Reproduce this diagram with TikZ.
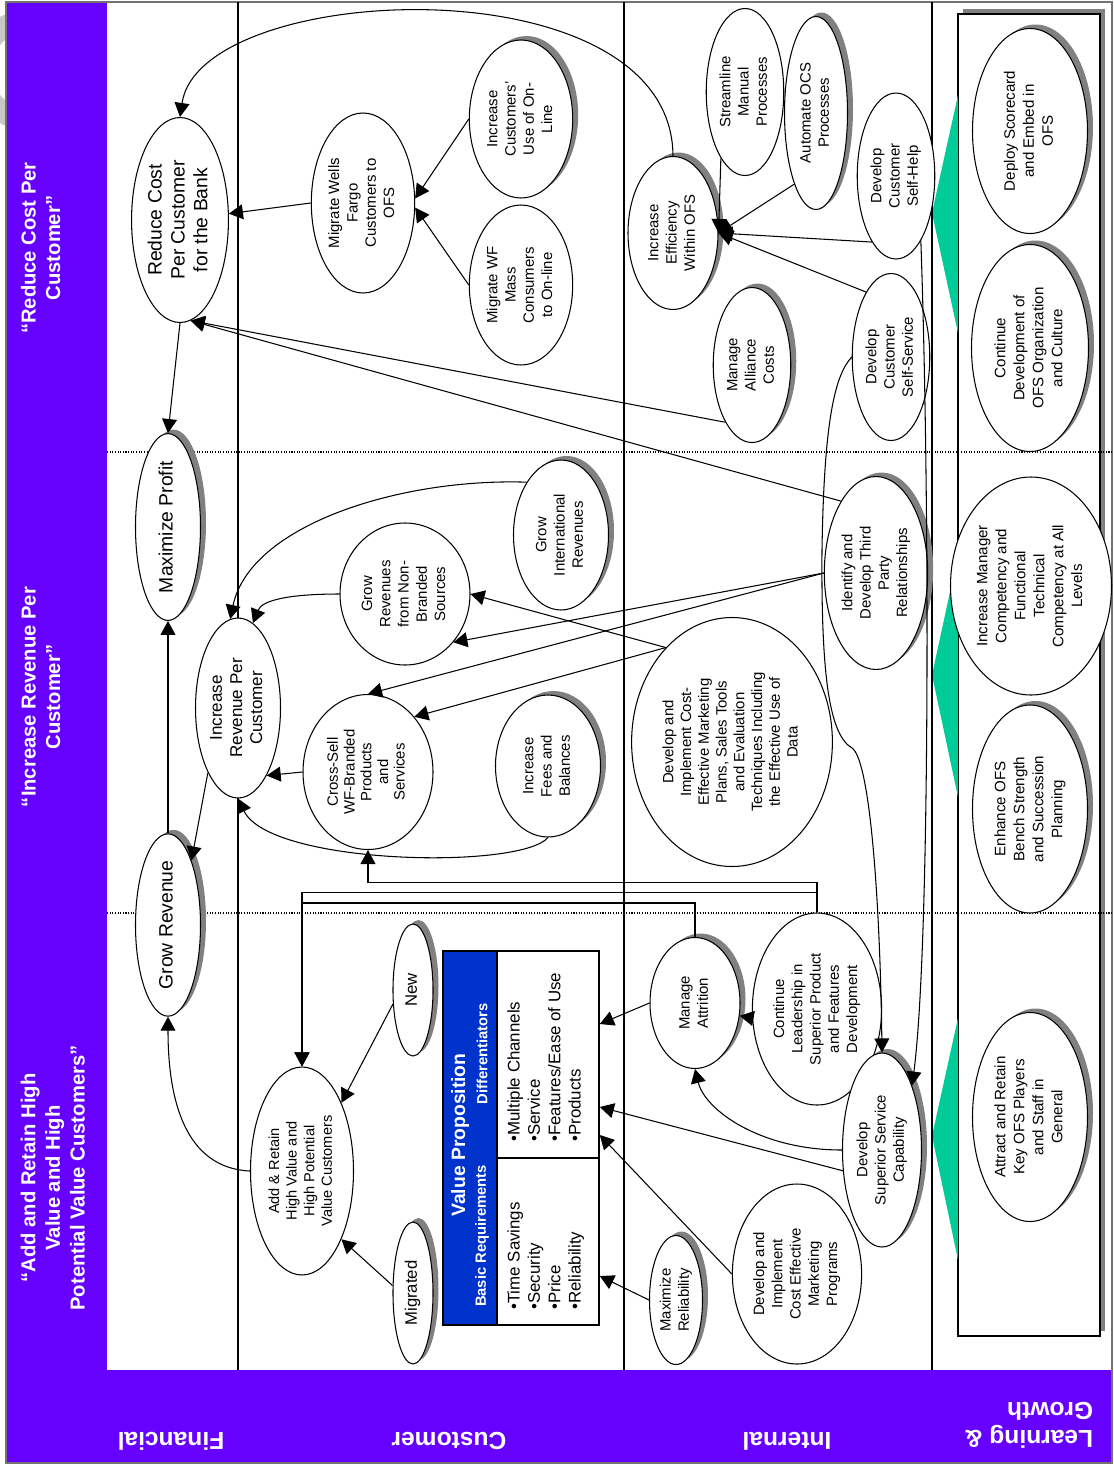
\documentclass[tikz,border=0pt]{standalone}
\usepackage{fontspec}
\setmainfont{Liberation Sans}
\usepackage{graphicx}
\usetikzlibrary{shapes.geometric,shadows,arrows.meta}

\definecolor{bandpurple}{RGB}{102,0,255}
\definecolor{vpblue}{RGB}{0,51,204}
\definecolor{lggreen}{RGB}{0,204,153}

% text that reads from bottom to top
\newcommand{\vt}[1]{\rotatebox{90}{\begin{tabular}{@{}c@{}}#1\end{tabular}}}
\newcommand{\vtl}[1]{\rotatebox{90}{\begin{tabular}{@{}l@{}}#1\end{tabular}}}

\tikzset{
  goal/.style={ellipse, draw, fill=white, line width=0.6pt, inner sep=0pt,
    font=\fontsize{8.5}{10.4}\selectfont},
  sz/.style 2 args={minimum width=#1*0.02cm, minimum height=#2*0.02cm},
  shad/.style={drop shadow={shadow xshift=0.11cm, shadow yshift=0.08cm,
    fill=black!50, opacity=1}},
  bigtxt/.style={font=\fontsize{11}{13}\selectfont},
  lgtxt/.style={font=\fontsize{8.6}{10.8}\selectfont},
  arr/.style={-{Triangle[length=8pt,width=8.5pt]}, line width=0.6pt},
  hdr/.style={text=white, font=\fontsize{11.5}{14}\selectfont\bfseries},
  bandlabel/.style={text=white, font=\fontsize{14}{16}\selectfont\bfseries, rotate=180},
  divider/.style={line width=0.8pt},
  colsep/.style={line width=0.6pt, dash pattern=on 0.6pt off 0.9pt}
}

\begin{document}
\begin{tikzpicture}[x=0.02cm, y=-0.02cm]
    \useasboundingbox (0,0) rectangle (1114,1468);
    \fill[white] (0,0) rectangle (1114,1468);

    % page curl behind the band
    \draw[line width=0.44cm, black!22] (30,70) circle (50);

    % purple bands and frame
    \fill[bandpurple] (7,2) rectangle (107,1370);
    \fill[bandpurple] (7,1370) rectangle (1112,1462);
    \draw[black!55, line width=0.8pt] (6,2) rectangle (1112,1463);

    % learning & growth box
    \fill[black!50] (963,9) rectangle (1105,1331);
    \draw[fill=white, line width=0.6pt] (958,14) rectangle (1100,1336);

    % green wedges
    \fill[lggreen] (932,213) -- (958,95) -- (958,333) -- cycle;
    \fill[lggreen] (932,675) -- (958,555) -- (958,797) -- cycle;
    \fill[lggreen] (932,1136) -- (958,1018) -- (958,1260) -- cycle;

    % perspective lines
    \foreach \x in {238,624,932}
        \draw[divider] (\x,2) -- (\x,1370);
    \foreach \y in {452,913}
        \draw[colsep] (107,\y) -- (1112,\y);

    % headers
    \node[hdr] (hdrCost) at (43,248) {\vt{“Reduce Cost Per\\Customer”}};
    \node[hdr] (hdrRev) at (43,697) {\vt{“Increase Revenue Per\\Customer”}};
    \node[hdr] (hdrAdd) at (55,1178) {\vt{“Add and Retain High\\Value and High\\Potential Value Customers”}};

    % perspective names
    \node[bandlabel] (lblFin) at (171,1441) {Financial};
    \node[bandlabel] (lblCust) at (449,1441) {Customer};
    \node[bandlabel] (lblInt) at (787,1441) {Internal};
    \node[bandlabel, align=left] (lblLearn) at (1029,1425) {Learning \&\\Growth};

    % Financial
    \node[goal, bigtxt, sz={90}{205}] (redCost) at (180,220) {\vt{Reduce Cost\\Per Customer\\for the Bank}};
    \node[goal, bigtxt, shad, sz={65}{181}] (maxProfit) at (168,527) {\vt{Maximize Profit}};
    \node[goal, bigtxt, shad, sz={65}{182}] (growRev) at (168,925) {\vt{Grow Revenue}};

    % Customer
    \node[goal, sz={90}{180}] (migWF) at (363,203) {\vt{Migrate Wells\\Fargo\\Customers to\\OFS}};
    \node[goal, shad, sz={83}{158}] (incUse) at (521,119) {\vt{Increase\\Customers’\\Use of On-\\Line}};
    \node[goal, sz={88}{160}] (migMass) at (521,285) {\vt{Migrate WF\\Mass\\Consumers\\to On-line}};
    \node[goal, font=\fontsize{9.7}{11.4}\selectfont, sz={77}{180}] (incRev) at (238,708) {\vt{Increase\\Revenue Per\\Customer}};
    \node[goal, sz={130}{142}] (nonBrand) at (405,594) {\vt{Grow\\Revenues\\from Non-\\Branded\\Sources}};
    \node[goal, shad, sz={95}{150}] (intlRev) at (561,535) {\vt{Grow\\International\\Revenues}};
    \node[goal, font=\fontsize{8.5}{9.5}\selectfont, sz={130}{155}] (crossSell) at (368,772) {\vt{Cross-Sell\\WF-Branded\\Products\\and\\Services}};
    \node[goal, shad, sz={105}{142}] (incFees) at (548,766) {\vt{Increase\\Fees and\\Balances}};
    \node[goal, font=\fontsize{8.3}{10}\selectfont, sz={103}{208}] (addRetain) at (302,1171) {\vt{Add \& Retain\\High Value and\\High Potential\\Value Customers}};
    \node[goal, shad, font=\fontsize{9.5}{11}\selectfont, sz={40}{132}] (newCust) at (413,990) {\vt{New}};
    \node[goal, shad, font=\fontsize{9.5}{11}\selectfont, sz={40}{142}] (migCust) at (413,1293) {\vt{Migrated}};

    % value proposition
    \fill[vpblue] (443,951) rectangle (497,1325);
    \node[draw, line width=0.9pt, sz={156}{374}] (vpBox) at (521,1138) {};
    \draw[line width=0.8pt] (497,951) -- (497,1325);
    \draw[line width=0.8pt] (497,1158) -- (599,1158);
    \node[text=white, font=\fontsize{11}{13}\selectfont\bfseries] (vpTitle) at (460,1135) {\rotatebox{90}{Value Proposition}};
    \node[text=white, font=\fontsize{8.4}{10}\selectfont\bfseries] (vpDiff) at (482,1054) {\rotatebox{90}{Differentiators}};
    \node[text=white, font=\fontsize{8.4}{10}\selectfont\bfseries] (vpBasic) at (482,1236) {\rotatebox{90}{Basic Requirements}};
    \node[anchor=south, inner sep=0pt, font=\fontsize{9.6}{11.6}\selectfont] (vpDiffList) at (546,1142)
        {\vtl{•Multiple Channels\\•Service\\•Features/Ease of Use\\•Products}};
    \node[anchor=south, inner sep=0pt, font=\fontsize{9.6}{11.6}\selectfont] (vpBasicList) at (546,1310)
        {\vtl{•Time Savings\\•Security\\•Price\\•Reliability}};

    % Internal
    \node[goal, shad, sz={90}{153}] (incEff) at (673,233) {\vt{Increase\\Efficiency\\Within OFS}};
    \node[goal, sz={60}{167}] (streamline) at (745,92) {\vt{Streamline\\Manual\\Processes}};
    \node[goal, shad, sz={63}{193}] (automate) at (816,113) {\vt{Automate OCS\\Processes}};
    \node[goal, sz={62}{166}] (selfHelp) at (896,176) {\vt{Develop\\Customer\\Self-Help}};
    \node[goal, shad, sz={64}{155}] (alliance) at (752,365) {\vt{Manage\\Alliance\\Costs}};
    \node[goal, sz={62}{167}] (selfServ) at (891,357) {\vt{Develop\\Customer\\Self-Service}};
    \node[goal, shad, sz={92}{193}] (thirdParty) at (876,573) {\vt{Identify and\\Develop Third\\Party\\Relationships}};
    \node[goal, font=\fontsize{8.5}{10.1}\selectfont, sz={165}{249}] (mktPlans) at (732,742)
        {\vt{Develop and\\Implement Cost-\\Effective Marketing\\Plans, Sales Tools\\and Evaluation\\Techniques Including\\the Effective Use of\\Data}};
    \node[goal, shad, sz={90}{131}] (attrition) at (695,1003) {\vt{Manage\\Attrition}};
    \node[goal, sz={102}{192}] (leadership) at (817,1009) {\vt{Continue\\Leadership in\\Superior Product\\and Features\\Development}};
    \node[goal, shad, sz={79}{194}] (superior) at (882,1150) {\vt{Develop\\Superior Service\\Capability}};
    \node[goal, sz={115}{180}] (mktProg) at (797,1274) {\vt{Develop and\\Implement\\Cost Effective\\Marketing\\Programs}};
    \node[goal, shad, sz={53}{129}] (reliab) at (676,1300) {\vt{Maximize\\Reliability}};

    % Learning & Growth
    \node[goal, lgtxt, shad, sz={115}{205}] (scorecard) at (1030,131) {\vt{Deploy Scorecard\\and Embed in\\OFS}};
    \node[goal, lgtxt, shad, sz={117}{207}] (culture) at (1030,348) {\vt{Continue\\Development of\\OFS Organization\\and Culture}};
    \node[goal, lgtxt, sz={107}{218}] (competency) at (1031,586) {\vt{Increase Manager\\Competency and\\Functional\\Technical\\Competency at All\\Levels}};
    \node[goal, lgtxt, shad, sz={115}{208}] (bench) at (1030,809) {\vt{Enhance OFS\\Bench Strength\\and Succession\\Planning}};
    \node[goal, lgtxt, shad, sz={115}{209}] (attract) at (1030,1117) {\vt{Attract and Retain\\Key OFS Players\\and Staff in\\General}};

    % links into Financial
    \draw[arr] (incEff.north) .. controls (672,-40) and (200,-20) .. (redCost.north);
    \draw[arr] (migWF.west) -- (redCost);
    \draw[arr] (redCost.south) -- (maxProfit.north);
    \draw[arr] (alliance.245) -- (redCost.-84);
    \draw[arr] (thirdParty.116) -- (redCost.-84);
    \draw[arr] (growRev.north) -- (maxProfit.south);
    \draw[arr] (incRev.245) -- (growRev.70);
    \draw[arr] (addRetain.west) .. controls (185,1168) and (168,1100) .. (growRev.south);

    % links inside Customer
    \draw[arr] (incUse.west) -- (migWF.5);
    \draw[arr] (migMass.west) -- (migWF.-5);
    \draw[arr] (crossSell.west) -- (incRev.-67);
    \draw[arr] (nonBrand.west) .. controls (290,594) and (262,600) .. (incRev.80);
    \draw[arr] (intlRev.123) .. controls (400,478) and (250,525) .. (incRev.95);
    \draw[arr] (incFees.south) .. controls (520,870) and (270,865) .. (incRev.south);
    \draw[arr] (newCust.215) -- (addRetain.60);
    \draw[arr] (migCust.160) -- (addRetain.-60);

    % links from Internal to Customer
    \draw[arr] (thirdParty.west) -- (nonBrand.-45);
    \draw[arr] (thirdParty.west) -- (crossSell.north);
    \draw[arr] (mktPlans.125) -- (nonBrand.east);
    \draw[arr] (mktPlans.125) -- (crossSell.50);
    \draw[arr] (leadership.north) -- ++(0,-30) -| (crossSell.south);
    \draw[arr] (leadership.north) -- ++(0,-20) -| (addRetain.north);
    \draw[arr] (attrition.north) -- ++(0,-34) -| (addRetain.north);
    \draw[arr] (attrition.west) -- (vpBox.east |- 0,1024);
    \draw[arr] (superior.208) -- (vpBox.east |- 0,1107);
    \draw[arr] (mktProg.west) -- (vpBox.east |- 0,1135);
    \draw[arr] (reliab.west) -- (vpBox.east |- 0,1276);

    % links inside Internal
    \draw[arr] (leadership.188) -- (attrition.-16);
    \draw[arr] (superior.west) .. controls (760,1150) and (705,1110) .. (attrition.south);
    \draw[arr] (streamline.250) -- (incEff.east);
    \draw[arr] (automate.253) -- (incEff.east);
    \draw[arr] (selfHelp.250) -- (incEff.east);
    \draw[arr] (selfServ.111) -- (incEff.east);
    \draw[arr] (selfServ.west) .. controls (835,375) and (824,420) .. (822,550)
        .. controls (821,680) and (830,735) .. (852,748)
        .. controls (870,760) and (880,900) .. (superior.north);
    \draw[arr] (selfHelp.-69) .. controls (930,500) and (930,950) .. (superior.65);
\end{tikzpicture}
\end{document}
